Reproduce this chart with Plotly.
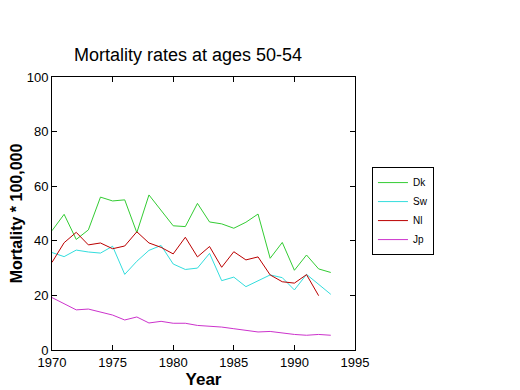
import plotly.graph_objects as go

years = list(range(1970, 1994))
dk = [43.7, 49.7, 40.5, 44.0, 56.0, 54.6, 55.0, 43.0, 56.8, 51.3, 45.5, 45.2,
      53.7, 46.9, 46.2, 44.6, 46.8, 49.8, 33.6, 39.4, 29.2, 34.8, 29.7, 28.4]
sw = [35.7, 34.2, 36.6, 35.9, 35.5, 38.0, 27.7, 32.5, 36.5, 38.3, 31.5, 29.5,
      30.0, 35.4, 25.4, 26.7, 23.2, 25.4, 27.5, 26.5, 22.0, 27.7, 24.0, 20.4]
nl_years = list(range(1970, 1993))
nl = [32.1, 39.3, 43.1, 38.5, 39.2, 37.1, 38.1, 43.3, 39.2, 37.6, 35.2, 41.3,
      34.1, 37.9, 30.3, 36.0, 33.0, 34.1, 27.5, 25.0, 24.5, 27.6, 19.9]
jp = [19.2, 16.8, 14.7, 15.0, 13.8, 12.8, 11.0, 12.1, 9.9, 10.5, 9.8, 9.8,
      9.0, 8.7, 8.4, 7.8, 7.2, 6.6, 6.8, 6.2, 5.7, 5.4, 5.7, 5.4]

series = [
    ("Dk", years, dk, "#33cc33"),
    ("Sw", years, sw, "#33dddd"),
    ("Nl", nl_years, nl, "#bb0000"),
    ("Jp", years, jp, "#cc33cc"),
]

fig = go.Figure()
for name, x, y, c in series:
    fig.add_trace(go.Scatter(x=x, y=y, mode="lines", name=name,
                             line=dict(color=c, width=1)))

axis_common = dict(showgrid=False, zeroline=False, showline=True, linecolor="black",
                   linewidth=1, mirror="ticks", ticks="inside", ticklen=5,
                   tickcolor="black", tickfont=dict(size=13, color="black"),
                   automargin=False)

# the page adds an 8px body margin, so the figure is 8px smaller and shifted
W, H = 512, 382
fig.update_layout(
    width=W, height=H,
    paper_bgcolor="white", plot_bgcolor="white",
    font=dict(family="Liberation Sans, Arial, sans-serif", color="black"),
    margin=dict(l=44, r=165, t=69, b=40, autoexpand=False),
    title=dict(text="Mortality rates at ages 50-54", x=180/W, xanchor="center",
               y=1-47/H, yanchor="middle", font=dict(size=18), automargin=False),
    xaxis=dict(range=[1970, 1995], tickvals=[1970, 1975, 1980, 1985, 1990, 1995],
               title=dict(text="<b>Year</b>", font=dict(size=17), standoff=0), **axis_common),
    yaxis=dict(range=[0, 100], tickvals=[0, 20, 40, 60, 80, 100],
               title=dict(text="<b>Mortality * 100,000</b>", font=dict(size=16), standoff=2),
               **axis_common),
    legend=dict(x=1.056, y=0.67, xanchor="left", yanchor="top",
                bordercolor="black", borderwidth=1, bgcolor="white",
                font=dict(size=10), itemwidth=30, tracegroupgap=0),
    showlegend=True,
)

fig.write_html("out.html")
